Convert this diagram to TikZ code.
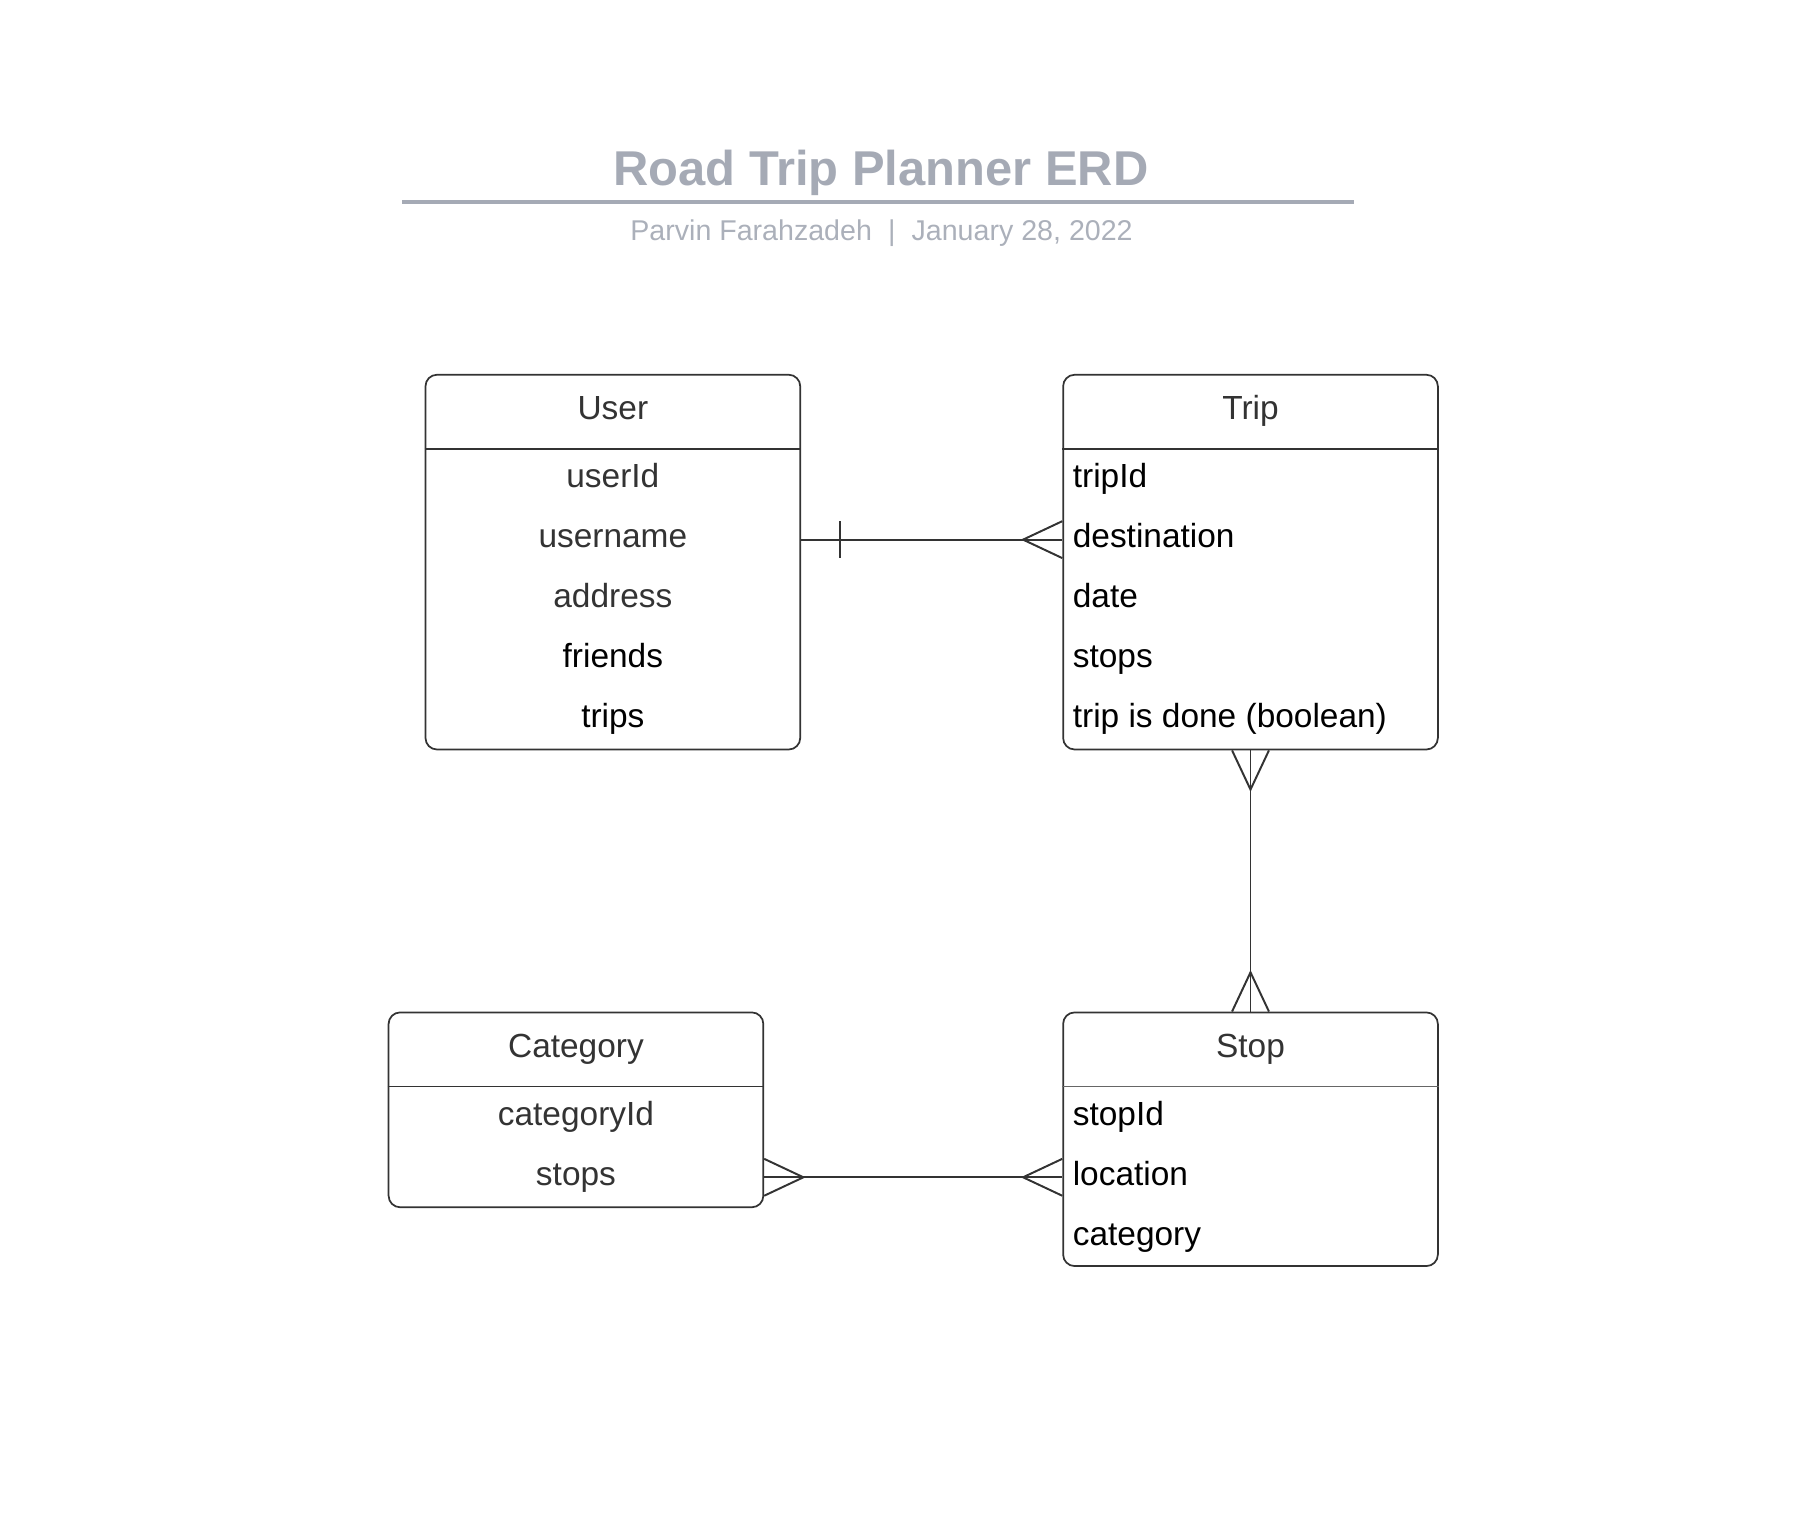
\documentclass[tikz,border=0pt]{standalone}
\usepackage{fontspec}
\setmainfont{Liberation Sans}
\usetikzlibrary{calc}
\definecolor[named]{TitleGray}{HTML}{A5AAB5}
\definecolor[named]{SubGray}{HTML}{ABB0BA}
\definecolor[named]{LineGray}{HTML}{333333}
\definecolor[named]{TextGray}{HTML}{333333}
\tikzset{
  entity/.style={draw=LineGray,line width=0.75pt,rounded corners=5pt,
    minimum width=162.5pt,inner sep=0pt},
  sepline/.style={draw=LineGray,line width=0.75pt},
  head/.style={anchor=base,inner sep=0pt,text=TextGray,
    font=\fontsize{14.5}{17}\selectfont},
  attr/.style={inner sep=0pt,text height=7pt,text depth=0pt,
    font=\fontsize{14.5}{17}\selectfont},
  conn/.style={draw=LineGray,line width=0.85pt},
}

\begin{document}
\begin{tikzpicture}[x=0.5pt,y=-0.5pt]
    \useasboundingbox (0,0) rectangle (1568,1323);

    % Title
    \node[anchor=base,inner sep=0pt,text=TitleGray,
      font=\fontsize{21.2}{25}\selectfont\bfseries] (title) at (764,161) {Road Trip Planner ERD};
    \path (349,175) coordinate (RuleL) (1174,175) coordinate (RuleR);
    \draw[TitleGray,line width=1.5pt] (RuleL) -- (RuleR);
    \node[anchor=base,inner sep=0pt,text=SubGray,
      font=\fontsize{12.4}{15}\selectfont] (subtitle) at (764.5,209)
      {Parvin Farahzadeh\hspace{7pt}|\hspace{7pt}January 28, 2022};

    % Entities
    \node[entity,minimum height=162.5pt] (user) at (531.5,487.5) {};
    \node[entity,minimum height=162.5pt] (trip) at (1084.5,487.5) {};
    \node[entity,minimum height=84.5pt] (category) at (499.5,962.5) {};
    \node[entity,minimum height=110pt] (stop) at (1084.5,988) {};

    % Header lines
    \draw[sepline] ([yshift=-32.5pt]user.north west) -- ([yshift=-32.5pt]user.north east);
    \draw[sepline] ([yshift=-32.5pt]trip.north west) -- ([yshift=-32.5pt]trip.north east);
    \draw[sepline] ([yshift=-32.5pt]category.north west) -- ([yshift=-32.5pt]category.north east);
    \draw[draw=LineGray!75,line width=0.5pt] ([yshift=-32.5pt]stop.north west) -- ([yshift=-32.5pt]stop.north east);

    % Headers
    \node[head] (userh) at (531.5,364) {User};
    \node[head] (triph) at (1084.5,364) {Trip};
    \node[head] (categoryh) at (499.5,917) {Category};
    \node[head] (stoph) at (1084.5,917) {Stop};

    % User attributes
    \begin{scope}[every node/.style={attr,anchor=base}]
      \node[text=TextGray] (user1) at (531.5,423) {userId};
      \node[text=TextGray] (user2) at (531.5,475) {username};
      \node[text=TextGray] (user3) at (531.5,527) {address};
      \node (user4) at (531.5,579) {friends};
      \node (user5) at (531.5,631) {trips};
    \end{scope}

    % Trip attributes
    \begin{scope}[every node/.style={attr,anchor=base west}]
      \node (trip1) at (930,423) {tripId};
      \node (trip2) at (930,475) {destination};
      \node (trip3) at (930,527) {date};
      \node (trip4) at (930,579) {stops};
      \node (trip5) at (930,631) {trip is done (boolean)};
    \end{scope}

    % Category attributes
    \begin{scope}[every node/.style={attr,anchor=base,text=TextGray}]
      \node (category1) at (499.5,976) {categoryId};
      \node (category2) at (499.5,1028) {stops};
    \end{scope}

    % Stop attributes
    \begin{scope}[every node/.style={attr,anchor=base west}]
      \node (stop1) at (930,976) {stopId};
      \node (stop2) at (930,1028) {location};
      \node (stop3) at (930,1080) {category};
    \end{scope}

    % Connector ends
    \coordinate (UT) at (user.east |- user2);
    \coordinate (TU) at (trip.west |- trip2);
    \coordinate (CS) at (category.east |- category2);
    \coordinate (SC) at (stop.west |- stop2);

    % User -- Trip (one to many)
    \draw[conn] (UT) -- (TU);
    \draw[conn] (UT) ++(34,-16) -- ++(0,32);
    \draw[conn] (TU) ++(0,-16) -- ++(-34,16) -- ++(34,16);

    % Trip -- Stop (many to many)
    \draw[conn] (trip.south) -- (stop.north);
    \draw[conn] (trip.south) ++(-16,0) -- ++(16,34) -- ++(16,-34);
    \draw[conn] (stop.north) ++(-16,0) -- ++(16,-34) -- ++(16,34);

    % Category -- Stop (many to many)
    \draw[conn] (CS) -- (SC);
    \draw[conn] (CS) ++(0,-16) -- ++(34,16) -- ++(-34,16);
    \draw[conn] (SC) ++(0,-16) -- ++(-34,16) -- ++(34,16);

\end{tikzpicture}
\end{document}
